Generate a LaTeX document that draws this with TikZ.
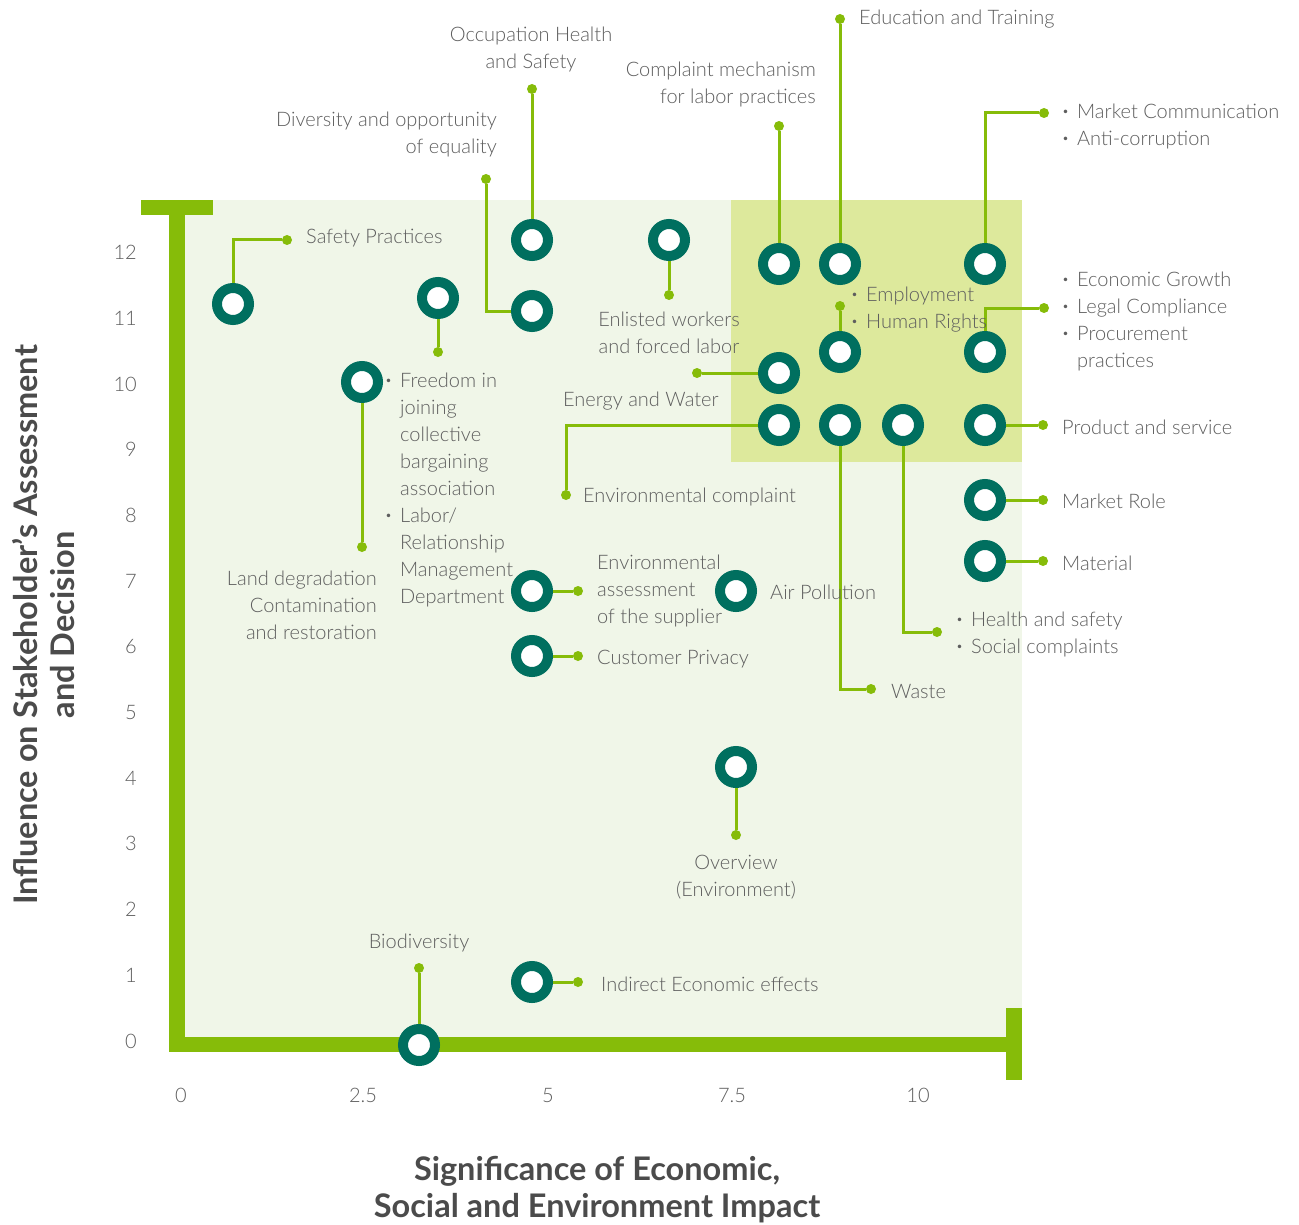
\documentclass[tikz,border=0pt]{standalone}
\usepackage{fontspec}
\setmainfont{Lato}[UprightFont={* Light},BoldFont={* Bold}]
\begin{document}
\definecolor{axisgreen}{HTML}{86BC09}
\definecolor{panel}{HTML}{F0F6E8}
\definecolor{hot}{HTML}{DDE99C}
\definecolor{ringteal}{HTML}{006F5F}
\definecolor{txt}{HTML}{5E5E5E}
\newcommand\bul{\raisebox{0.3ex}{\fontsize{12}{12}\selectfont\textbullet}}
\newcommand\blist[1]{\begin{tabular}{@{}l@{\hspace{8pt}}l@{}}#1\end{tabular}}
\begin{tikzpicture}[x=1pt,y=-1pt,
  ring/.style={circle,draw=ringteal,fill=white,line width=10pt,minimum size=32pt,inner sep=0pt},
  tip/.style={circle,fill=axisgreen,minimum size=10pt,inner sep=0pt},
  conn/.style={draw=axisgreen,line width=3pt},
  lbl/.style={text=txt,inner sep=0pt,yshift=-2pt,font=\fontsize{20}{27}\selectfont},
  tick/.style={text=txt,inner sep=0pt,font=\fontsize{20}{22}\selectfont},
  title/.style={text=txt!80!black,inner sep=0pt,align=center,font=\fontsize{32.5}{37}\selectfont\bfseries}]
\useasboundingbox (0,0) rectangle (1299,1225);
\fill[white] (0,0) rectangle (1299,1225);
% plotting field and the priority zone
\fill[panel] (185,200) rectangle (1022,1037);
\fill[hot] (731,200) rectangle (1022,462);
% axes
\fill[axisgreen] (169,200) rectangle (185,1052);
\fill[axisgreen] (169,1037) rectangle (1022,1052);
\fill[axisgreen] (141,200) rectangle (213,215);
\fill[axisgreen] (1006,1008) rectangle (1022,1080);
% tick labels
\foreach \v [count=\i from 0] in {0,1,2,3,4,5,6,7,8,9,10,11,12}
  \node[tick,anchor=east] (ty\i) at (137,{1041-65.7*\i}) {\v};
\foreach \v/\x [count=\i] in {0/181,2.5/363,5/548,7.5/732,10/918}
  \node[tick] (tx\i) at (\x,1095) {\v};
% axis titles
\node[title] (xt) at (597,1190) {Significance of Economic,\\Social and Environment Impact};
\node[title,rotate=90] (yt) at (44,625) {Influence on Stakeholder’s Assessment\\and Decision};

% topic markers
\node[ring] (safety) at (233,304) {};
\node[ring] (freedom) at (438,298) {};
\node[ring] (occup) at (532,240) {};
\node[ring] (divers) at (532,311) {};
\node[ring] (enlist) at (669,240) {};
\node[ring] (complain) at (779,264) {};
\node[ring] (educ) at (840,264) {};
\node[ring] (market) at (985,264) {};
\node[ring] (employ) at (840,352) {};
\node[ring] (econ) at (985,352) {};
\node[ring] (energy) at (779,373) {};
\node[ring] (envcomp) at (779,425) {};
\node[ring] (waste) at (840,425) {};
\node[ring] (health) at (903,425) {};
\node[ring] (product) at (985,425) {};
\node[ring] (role) at (985,500) {};
\node[ring] (material) at (985,561) {};
\node[ring] (land) at (362,382) {};
\node[ring] (supplier) at (532,591) {};
\node[ring] (air) at (736,591) {};
\node[ring] (privacy) at (532,656) {};
\node[ring] (overview) at (736,767) {};
\node[ring] (indirect) at (532,982) {};
\node[ring] (bio) at (419,1045) {};

% connector ends
\node[tip] (safetyT) at (287,240) {};
\node[tip] (freedomT) at (438,352) {};
\node[tip] (occupT) at (532,89) {};
\node[tip] (diversT) at (486,179) {};
\node[tip] (enlistT) at (669,295) {};
\node[tip] (complainT) at (779,126) {};
\node[tip] (educT) at (840,19) {};
\node[tip] (marketT) at (1044,113) {};
\node[tip] (employT) at (840,306) {};
\node[tip] (econT) at (1044,308) {};
\node[tip] (energyT) at (697,373) {};
\node[tip] (envcompT) at (566,495) {};
\node[tip] (wasteT) at (871,689) {};
\node[tip] (healthT) at (937,632) {};
\node[tip] (productT) at (1043,425) {};
\node[tip] (roleT) at (1043,500) {};
\node[tip] (materialT) at (1043,561) {};
\node[tip] (landT) at (362,547) {};
\node[tip] (supplierT) at (578,591) {};
\node[tip] (privacyT) at (578,656) {};
\node[tip] (overviewT) at (736,835) {};
\node[tip] (indirectT) at (578,982) {};
\node[tip] (bioT) at (419,968) {};

% connectors
\draw[conn] (safety.north) |- (safetyT);
\draw[conn] (freedom.south) -- (freedomT);
\draw[conn] (occup.north) -- (occupT);
\draw[conn] (divers.west) -| (diversT);
\draw[conn] (enlist.south) -- (enlistT);
\draw[conn] (complain.north) -- (complainT);
\draw[conn] (educ.north) -- (educT);
\draw[conn] (market.north) |- (marketT);
\draw[conn] (employ.north) -- (employT);
\draw[conn] (econ.north) |- (econT);
\draw[conn] (energy.west) -- (energyT);
\draw[conn] (envcomp.west) -| (envcompT);
\draw[conn] (waste.south) |- (wasteT);
\draw[conn] (health.south) |- (healthT);
\draw[conn] (product.east) -- (productT);
\draw[conn] (role.east) -- (roleT);
\draw[conn] (material.east) -- (materialT);
\draw[conn] (land.south) -- (landT);
\draw[conn] (supplier.east) -- (supplierT);
\draw[conn] (privacy.east) -- (privacyT);
\draw[conn] (overview.south) -- (overviewT);
\draw[conn] (indirect.east) -- (indirectT);
\draw[conn] (bio.north) -- (bioT);

% labels
\node[lbl,anchor=west] (lSafety) at (306,236) {Safety Practices};
\node[lbl,align=center] (lOccup) at (531,47) {Occupation Health\\and Safety};
\node[lbl,align=right,anchor=east] (lDivers) at (497,132) {Diversity and opportunity\\of equality};
\node[lbl,align=right,anchor=east] (lComplain) at (816,82) {Complaint mechanism\\for labor practices};
\node[lbl,anchor=west] (lEduc) at (859,17) {Education and Training};
\node[lbl,anchor=west] (lMarket) at (1062,125) {\blist{\bul & Market Communication\\ \bul & Anti-corruption}};
\node[lbl,anchor=west] (lEmploy) at (851,307.5) {\blist{\bul & Employment\\ \bul & Human Rights}};
\node[lbl,anchor=west] (lEcon) at (1062,320) {\blist{\bul & Economic Growth\\ \bul & Legal Compliance\\ \bul & Procurement\\ & practices}};
\node[lbl,align=center] (lEnlist) at (669,330.5) {Enlisted workers\\and forced labor};
\node[lbl,anchor=west] (lEnergy) at (563,399) {Energy and Water};
\node[lbl,anchor=west] (lEnvcomp) at (583,495) {Environmental complaint};
\node[lbl,anchor=west] (lProduct) at (1062,425) {Product and service};
\node[lbl,anchor=west] (lRole) at (1062,499) {Market Role};
\node[lbl,anchor=west] (lMaterial) at (1062,561) {Material};
\node[lbl,anchor=west] (lFreedom) at (385,488.5) {\blist{\bul & Freedom in\\ & joining\\ & collective\\ & bargaining\\ & association\\ \bul & Labor/\\ & Relationship\\ & Management\\ & Department}};
\node[lbl,align=right,anchor=east] (lLand) at (377,603) {Land degradation\\Contamination\\and restoration};
\node[lbl,align=left,anchor=west] (lSupplier) at (597,589) {Environmental\\assessment\\of the supplier};
\node[lbl,anchor=west] (lAir) at (770,590) {Air Pollution};
\node[lbl,anchor=west] (lPrivacy) at (597,657) {Customer Privacy};
\node[lbl,anchor=west] (lHealth) at (956,632.5) {\blist{\bul & Health and safety\\ \bul & Social complaints}};
\node[lbl,anchor=west] (lWaste) at (891,690) {Waste};
\node[lbl,align=center] (lOverview) at (736,875.5) {Overview\\(Environment)};
\node[lbl] (lBio) at (419,941) {Biodiversity};
\node[lbl,anchor=west] (lIndirect) at (601,982) {Indirect Economic effects};
\end{tikzpicture}
\end{document}
